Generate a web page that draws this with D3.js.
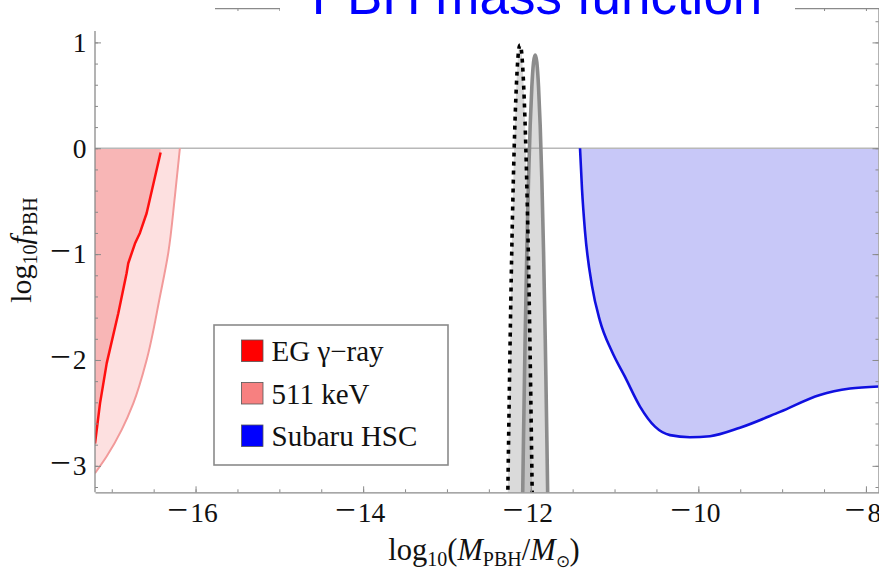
<!DOCTYPE html>
<html><head><meta charset="utf-8">
<script src="https://cdn.jsdelivr.net/npm/d3@7"></script>
<style>body{margin:0;background:#fff}svg{display:block}</style>
</head><body>
<svg id="c" width="879" height="573"></svg>
<script>
// ---- data ----
const xTicks = [-16, -14, -12, -10, -8];
const yTicks = [1, 0, -1, -2, -3];
// EG gamma-ray bound (red line)
const egX = [-17.2, -17.14, -17.06, -16.922, -16.823, -16.803, -16.723, -16.664, -16.584, -16.417];
const egY = [-2.79, -2.41, -2.03, -1.558, -1.18, -1.086, -0.90, -0.80, -0.614, -0.04];
// 511 keV bound
const k511X = [-17.2, -17.06, -16.882, -16.743, -16.584, -16.425, -16.326, -16.247, -16.187];
const k511Y = [-3.07, -2.91, -2.66, -2.41, -2.0, -1.40, -0.99, -0.457, 0];
// Subaru HSC bound
const hscX = [-11.412, -11.388, -11.353, -11.269, -11.174, -11.031, -10.875, -10.696, -10.517, -10.338, -10.10, -9.861, -9.503, -9.026, -8.549, -8.19, -7.85];
const hscY = [0, -0.39, -0.78, -1.30, -1.63, -1.92, -2.16, -2.44, -2.63, -2.71, -2.73, -2.72, -2.64, -2.49, -2.33, -2.27, -2.25];
// mass functions (dotted black, solid gray)
const dotX = [-12.274, -12.268, -12.248, -12.228, -12.208, -12.188, -12.168, -12.148, -12.128, -12.108, -12.088, -12.068, -12.048, -12.028, -12.008, -11.988, -11.982];
const dotY = [-3.31, -2.96, -1.92, -1.03, -0.31, 0.25, 0.65, 0.90, 0.975, 0.90, 0.65, 0.25, -0.31, -1.03, -1.92, -2.96, -3.31];
const grayX = [-12.097, -12.087, -12.067, -12.047, -12.027, -12.007, -11.987, -11.967, -11.947, -11.927, -11.907, -11.887, -11.867, -11.847, -11.827, -11.807, -11.797];
const grayY = [-3.31, -2.77, -1.80, -0.98, -0.31, 0.21, 0.58, 0.81, 0.88, 0.81, 0.58, 0.21, -0.31, -0.98, -1.80, -2.77, -3.31];
const legendLabels = ["EG \u03b3\u2212ray", "511 keV", "Subaru HSC"];
const legendColors = ["#ff0000", "#f78080", "#0000ff"];

// ---- layout ----
const svg = d3.select("#c");
const X0 = 95, X1 = 878.5, Y0 = 492.3, Ytop = 8;
const x = d3.scaleLinear().domain([-17.2, -7.85]).range([X0, X1]);
const y = d3.scaleLinear().domain([-3.25, 1.325]).range([Y0, Ytop]);
const serif = "'Liberation Serif','Times New Roman',serif";

svg.append("defs").append("clipPath").attr("id", "plot")
  .append("rect").attr("x", X0).attr("y", Ytop).attr("width", X1 - X0).attr("height", Y0 - Ytop);
const g = svg.append("g").attr("clip-path", "url(#plot)");

const zip = (xs, ys) => xs.map((v, i) => [v, ys[i]]);
const L = (curve) => d3.line().x(d => x(d[0])).y(d => y(d[1])).curve(curve || d3.curveLinear);

// 511 keV region
const k511 = zip(k511X, k511Y);
g.append("path").attr("d", L(d3.curveMonotoneY)([[-17.2, 0], ...k511.slice().reverse(), [-17.2, -3.07]]))
  .attr("fill", "#fde0e0").attr("stroke", "none");
// EG region
const eg = zip(egX, egY);
g.append("path").attr("d", L()([[-17.2, 0], [egX[egX.length - 1], 0], ...eg.slice().reverse(), [-17.2, egY[0]]]))
  .attr("fill", "#f8b6b6").attr("stroke", "none");
// HSC region
const hsc = zip(hscX, hscY);
g.append("path").attr("d", L(d3.curveMonotoneX)(hsc) + "L" + x(-7.85) + "," + y(0) + "Z")
  .attr("fill", "#c8c8f8").attr("stroke", "none");

// zero line
g.append("line").attr("x1", X0).attr("x2", X1).attr("y1", y(0)).attr("y2", y(0))
  .attr("stroke", "#b8b8b8").attr("stroke-width", 1.3);

// curves
g.append("path").attr("d", L(d3.curveMonotoneY)(k511))
  .attr("fill", "none").attr("stroke", "#f29a9a").attr("stroke-width", 2);
g.append("path").attr("d", L()(eg))
  .attr("fill", "none").attr("stroke", "#ff1010").attr("stroke-width", 2.5).attr("stroke-linejoin", "round");
g.append("path").attr("d", L(d3.curveMonotoneX)(hsc))
  .attr("fill", "none").attr("stroke", "#1010e0").attr("stroke-width", 2.6);

// mass functions
const peakLine = L(d3.curveNatural);
const dots = zip(dotX, dotY), gray = zip(grayX, grayY);
g.append("path").attr("d", peakLine(dots)).attr("fill", "rgba(150,150,150,0.35)").attr("stroke", "none");
g.append("path").attr("d", peakLine(gray)).attr("fill", "rgba(150,150,150,0.35)").attr("stroke", "none");
g.append("path").attr("d", peakLine(gray)).attr("fill", "none").attr("stroke", "#8c8c8c").attr("stroke-width", 3.6);
g.append("path").attr("d", peakLine(dots)).attr("fill", "none").attr("stroke", "#000").attr("stroke-width", 3.6)
  .attr("stroke-dasharray", "4,5");

// ---- axes ----
const axisColor = "#8a8a8a";
const minorX = d3.range(-17, -7.8, 0.5);
const minorY = d3.range(-3.2, 1.31, 0.2).map(v => Math.round(v * 10) / 10);
function styleAxis(sel) {
  sel.selectAll("path").attr("stroke", axisColor).attr("stroke-width", 1.3);
  sel.selectAll("line").attr("stroke", axisColor).attr("stroke-width", 1);
  sel.selectAll("text").remove();
}
// bottom
svg.append("g").attr("transform", `translate(0,${Y0})`)
  .call(d3.axisBottom(x).tickValues(minorX).tickSizeInner(-3).tickSizeOuter(0).tickFormat(""))
  .call(styleAxis);
svg.append("g").attr("transform", `translate(0,${Y0})`)
  .call(d3.axisBottom(x).tickValues(xTicks).tickSizeInner(-6).tickSizeOuter(0).tickFormat(""))
  .call(styleAxis).select("path").remove();
// left (from y=31 down)
svg.append("line").attr("x1", X0).attr("x2", X0).attr("y1", 31).attr("y2", Y0).attr("stroke", axisColor).attr("stroke-width", 1.3);
svg.append("g").attr("transform", `translate(${X0},0)`)
  .call(d3.axisLeft(y).tickValues(minorY.filter(v => y(v) > 31)).tickSizeInner(-3).tickSizeOuter(0).tickFormat(""))
  .call(styleAxis).select("path").remove();
svg.append("g").attr("transform", `translate(${X0},0)`)
  .call(d3.axisLeft(y).tickValues(yTicks).tickSizeInner(-6).tickSizeOuter(0).tickFormat(""))
  .call(styleAxis).select("path").remove();
// right
svg.append("g").attr("transform", `translate(${X1},0)`)
  .call(d3.axisRight(y).tickValues(minorY).tickSizeInner(-3).tickSizeOuter(0).tickFormat(""))
  .call(styleAxis);
svg.append("g").attr("transform", `translate(${X1},0)`)
  .call(d3.axisRight(y).tickValues(yTicks).tickSizeInner(-6).tickSizeOuter(0).tickFormat(""))
  .call(styleAxis).select("path").remove();
// top (partly hidden by the title box)
svg.append("defs").append("clipPath").attr("id", "topclip").selectAll("rect")
  .data([[215, 280], [795, 879]]).join("rect")
  .attr("x", d => d[0]).attr("width", d => d[1] - d[0]).attr("y", 0).attr("height", 30);
svg.append("g").attr("transform", `translate(0,${Ytop})`).attr("clip-path", "url(#topclip)")
  .call(d3.axisTop(x).tickValues(minorX).tickSizeInner(-3).tickSizeOuter(0).tickFormat(""))
  .call(styleAxis);

// tick labels
function minusLabel(sel, v) {
  if (v < 0) {
    sel.append("tspan").attr("font-size", 37).text("\u2212");
    sel.append("tspan").attr("dx", 2).text(String(-v));
  } else sel.text(String(v));
}
xTicks.forEach(v => {
  const t = svg.append("text").attr("x", x(v) - 3).attr("y", 521.5).attr("text-anchor", "middle")
    .attr("font-family", serif).attr("font-size", 27.5).attr("fill", "#111");
  minusLabel(t, v);
});
yTicks.forEach(v => {
  const t = svg.append("text").attr("x", 86.5).attr("y", y(v) + 9.3).attr("text-anchor", "end")
    .attr("font-family", serif).attr("font-size", 27.5).attr("fill", "#111");
  minusLabel(t, v);
});

// axis titles
const xt = svg.append("text").attr("x", 484).attr("y", 560).attr("text-anchor", "middle")
  .attr("font-family", serif).attr("font-size", 30.5).attr("fill", "#111");
xt.append("tspan").text("log");
xt.append("tspan").attr("font-size", 20).attr("dy", 6).text("10");
xt.append("tspan").attr("dy", -6).text("(");
xt.append("tspan").attr("font-style", "italic").text("M");
xt.append("tspan").attr("font-size", 20).attr("dy", 6).text("PBH");
xt.append("tspan").attr("dy", -6).text("/");
xt.append("tspan").attr("font-style", "italic").text("M");
xt.append("tspan").attr("font-size", 17).attr("dy", 7).text("\u2299");
xt.append("tspan").attr("dy", -7).text(")");

const yt = svg.append("text").attr("transform", "translate(31,250) rotate(-90)").attr("text-anchor", "middle")
  .attr("font-family", serif).attr("font-size", 30).attr("fill", "#111");
yt.append("tspan").text("log");
yt.append("tspan").attr("font-size", 20).attr("dy", 6).text("10");
yt.append("tspan").attr("dy", -6).attr("font-style", "italic").text("f");
yt.append("tspan").attr("font-size", 20).attr("dy", 6).text("PBH");

// legend
const lg = svg.append("g");
lg.append("rect").attr("x", 214).attr("y", 325).attr("width", 234).attr("height", 140)
  .attr("fill", "#fff").attr("stroke", "#8a8a8a").attr("stroke-width", 1.6);
legendLabels.forEach((lab, i) => {
  const yy = 340 + i * 42.5;
  lg.append("rect").attr("x", 241.5).attr("y", yy).attr("width", 21.5).attr("height", 21.5)
    .attr("fill", legendColors[i]).attr("stroke", "#555").attr("stroke-width", 0.8);
  lg.append("text").attr("x", 271.5).attr("y", yy + 21).attr("font-family", serif).attr("font-size", 29)
    .attr("fill", "#111").text(lab);
});

// title (mostly cut off at the top)
svg.append("rect").attr("x", 280).attr("y", 0).attr("width", 515).attr("height", 22).attr("fill", "#fff");
svg.append("text").attr("x", 537).attr("y", 14).attr("text-anchor", "middle")
  .attr("font-family", "'Liberation Sans',Arial,sans-serif").attr("font-size", 53).attr("fill", "#0000ff")
  .text("PBH mass function");
</script>
</body></html>
